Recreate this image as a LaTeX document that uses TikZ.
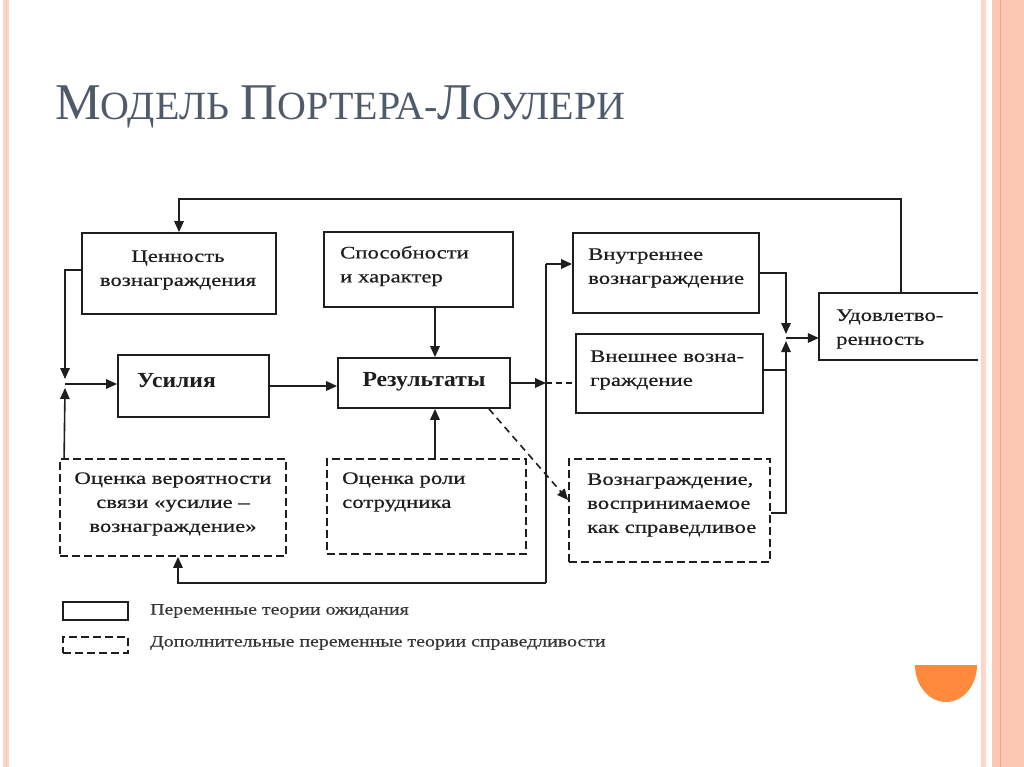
\documentclass[tikz,border=0pt]{standalone}
\usepackage{fontspec}
\setmainfont{Liberation Serif}[FakeStretch=1.3,FakeBold=0.6]
\newfontfamily\titlefont{Liberation Serif}
\newfontfamily\boldfont{Liberation Serif}[FakeStretch=1.1]
\newfontfamily\legfont{Liberation Serif}[FakeStretch=1.25,FakeBold=0.4]
\usetikzlibrary{arrows.meta,calc}
\definecolor{ink}{HTML}{1E1E1E}
\definecolor{titlec}{HTML}{4F5A6A}
\definecolor{salmon}{HTML}{FCC8B4}
\definecolor{salmonl}{HTML}{FDD6C8}
\definecolor{salmond}{HTML}{F2A27E}
\definecolor{orangec}{HTML}{FF8A3D}
\newcommand\BigL[1]{{\fontsize{51.5}{51.5}\selectfont #1}}
\newcommand\SmL[1]{{\fontsize{40}{40}\selectfont #1}}
\begin{document}
\begin{tikzpicture}[x=1pt,y=-1pt,
  box/.style={draw=ink,line width=1.8pt,inner sep=0pt},
  dbox/.style={box,dash pattern=on 8pt off 4pt},
  openbox/.style={inner sep=0pt},
  txt/.style={inner sep=0pt,font=\fontsize{17.5}{24}\selectfont,text=ink},
  btxt/.style={inner sep=0pt,font=\fontsize{21.5}{24}\selectfont\boldfont\bfseries,text=ink},
  ltxt/.style={inner sep=0pt,font=\fontsize{15.9}{24}\selectfont\legfont,text=ink!90},
  conn/.style={draw=ink,line width=1.6pt},
  arr/.style={conn,-{Triangle[length=11pt,width=9.5pt]}},
  darr/.style={arr,dash pattern=on 7pt off 5pt}]
\useasboundingbox (0,0) rectangle (1024,767);
\fill[white] (0,0) rectangle (1024,767);
% decorative stripes
\fill[salmonl] (3,0) rectangle (9,767);
\draw[salmond!60,line width=1pt] (6,0) -- (6,767);
\fill[salmonl] (981,0) rectangle (986,767);
\fill[salmon] (992,0) rectangle (1024,767);
\draw[salmond,line width=1.2pt] (1000.5,0) -- (1000.5,767);
\fill[orangec] (915,665) arc[start angle=180,end angle=0,x radius=31,y radius=37] -- cycle;
% title
\node[anchor=base west,inner sep=0pt,text=titlec,font=\titlefont\fontsize{45}{45}\selectfont] (title) at (55,120)
  {\BigL{М}\SmL{ОДЕЛЬ} \BigL{П}\SmL{ОРТЕРА-}\BigL{Л}\SmL{ОУЛЕРИ}};
% boxes
\node[box,minimum width=194pt,minimum height=81pt] (cennost) at (179,273.5) {};
\node[box,minimum width=189pt,minimum height=75pt] (spos) at (418.5,269.5) {};
\node[box,minimum width=151pt,minimum height=62pt] (usil) at (193.5,386) {};
\node[box,minimum width=172pt,minimum height=50pt] (rez) at (424,383) {};
\node[box,minimum width=186pt,minimum height=80pt] (vnutr) at (666,273) {};
\node[box,minimum width=187pt,minimum height=79pt] (vnesh) at (669.5,373.5) {};
\node[openbox,minimum width=159pt,minimum height=67pt] (udov) at (898.5,326.5) {};
\draw[conn,line width=1.8pt] (udov.north east) -- (udov.north west) -- (udov.south west) -- (udov.south east);
\node[dbox,minimum width=226pt,minimum height=97pt] (ocver) at (173,507.5) {};
\node[dbox,minimum width=199pt,minimum height=95pt] (ocrol) at (426.5,506.5) {};
\node[dbox,minimum width=201pt,minimum height=103pt] (sprav) at (669.5,510.5) {};
\node[box,minimum width=65pt,minimum height=18pt] (leg1) at (95.5,611) {};
\node[dbox,minimum width=65pt,minimum height=16pt] (leg2) at (95.5,645) {};
% texts
\node[txt,align=center] (tcennost) at (178,270) {Ценность\\вознаграждения};
\node[txt,align=left,anchor=west] (tspos) at (340,266) {Способности\\и характер};
\node[btxt] (tusil) at (176.5,381) {Усилия};
\node[btxt] (trez) at (424,382) {Результаты};
\node[txt,align=left,anchor=west] (tvnutr) at (588,268) {Внутреннее\\вознаграждение};
\node[txt,align=left,anchor=west] (tvnesh) at (590,370) {Внешнее возна-\\граждение};
\node[txt,align=left,anchor=west] (tudov) at (836,329) {Удовлетво-\\ренность};
\node[txt,align=center] (tocver) at (173,504) {Оценка вероятности\\связи «усилие –\\вознаграждение»};
\node[txt,align=left,anchor=west] (tocrol) at (342,492) {Оценка роли\\сотрудника};
\node[txt,align=left,anchor=west] (tsprav) at (587,505) {Вознаграждение,\\воспринимаемое\\как справедливое};
\node[ltxt,anchor=west] (tleg1) at (150,611) {Переменные теории ожидания};
\node[ltxt,anchor=west] (tleg2) at (150,643) {Дополнительные переменные теории справедливости};
% helper coordinates
\coordinate (j1) at (65,384);
\coordinate (j3) at (786,338);
\coordinate (cx) at (435,0);
\coordinate (c178) at (178,0);
\coordinate (b1) at (546,583);
\coordinate (b2) at (546,264);
% connectors
\draw[arr] ($(udov.north)+(2.5,0)$) -- ++(0,-94) -| (cennost.north);
\draw[arr] (cennost.west |- 0,270) -| ($(j1)+(0,-5)$);
\draw[arr] ($(ocver.north west)+(5,0)$) -- ($(j1)+(0,4)$);
\draw[arr] (j1) -- (usil.west |- j1);
\draw[arr] (usil.east) -- (usil.east -| rez.west);
\draw[arr] (spos.south -| cx) -- (rez.north -| cx);
\draw[arr] (ocrol.north -| cx) -- (rez.south -| cx);
\draw[arr] (rez.east) -- (b2 |- rez.east);
\draw[conn,dash pattern=on 6pt off 4pt] (b2 |- rez.east) -- (vnesh.west |- rez.east);
\draw[conn] (b2) -- (b1);
\draw[arr] (b2) -- (b2 -| vnutr.west);
\draw[arr] (b1) -| (c178 |- ocver.south);
\draw[darr] ($(rez.south east)+(-22,0)$) -- (sprav.west |- 0,500);
\draw[arr] (vnutr.east) -| ($(j3)+(0,-4)$);
\draw[conn] (vnesh.east |- 0,370) -- (j3 |- 0,370);
\draw[arr] (sprav.east |- 0,513) -| ($(j3)+(0,3)$);
\draw[arr] (j3) -- (j3 -| udov.west);
\end{tikzpicture}
\end{document}
